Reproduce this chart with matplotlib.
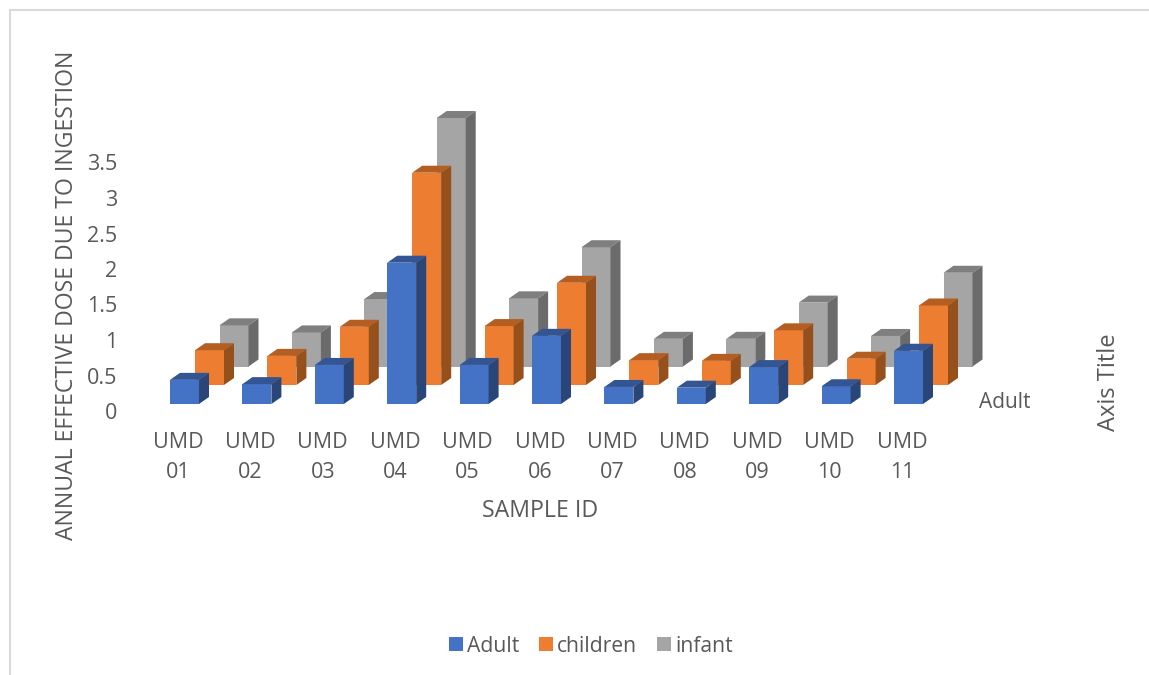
import numpy as np
import matplotlib
matplotlib.use('Agg')
import matplotlib.pyplot as plt
from matplotlib.patches import Polygon, Patch, Rectangle

plt.rcParams['font.family'] = ['Open Sans', 'DejaVu Sans']

categories = ['UMD\n01', 'UMD\n02', 'UMD\n03', 'UMD\n04', 'UMD\n05', 'UMD\n06',
              'UMD\n07', 'UMD\n08', 'UMD\n09', 'UMD\n10', 'UMD\n11']
adult = [0.34, 0.28, 0.55, 1.99, 0.55, 0.96, 0.24, 0.23, 0.52, 0.25, 0.75]
children = [0.49, 0.41, 0.82, 2.99, 0.83, 1.44, 0.35, 0.34, 0.77, 0.37, 1.12]
infant = [0.58, 0.48, 0.95, 3.50, 0.96, 1.68, 0.39, 0.39, 0.90, 0.43, 1.32]
y_ticks = [0, 0.5, 1, 1.5, 2, 2.5, 3, 3.5]
y_tick_labels = ['0', '0.5', '1', '1.5', '2', '2.5', '3', '3.5']

W, H = 1149, 675
TXT = '#595959'
PX_X = 72.4     # pixels per category
PX_Y = 71.0     # pixels per unit of dose

fig = plt.figure(figsize=(W / 100, H / 100), dpi=100)
# grey chart frame, only left and top edges are in the crop
fig.add_artist(Rectangle((10 / W, -0.1), 1.2, 1.1 - 10 / H, transform=fig.transFigure,
                         fill=False, ec='#D9D9D9', lw=1.5))

# axes so that category 0 is at x=178px and value 0 at y=411px
left, right, top, bottom = 135, 1040, 100, 411
ax = fig.add_axes([left / W, 1 - bottom / H, (right - left) / W, (bottom - top) / H])
ax.set_xlim((left - 178) / PX_X, (right - 178) / PX_X)
ax.set_ylim(0, (bottom - top) / PX_Y)
ax.patch.set_alpha(0)
for s in ax.spines.values():
    s.set_visible(False)

bar_w = 29 / PX_X
dx = 10 / PX_X
dy = 7 / PX_Y


def bar3d(x, floor, val, front, top_c, side):
    y0, y1 = floor, floor + val
    ax.add_patch(Polygon([(x, y0), (x + bar_w, y0), (x + bar_w, y1), (x, y1)],
                         fc=front, ec='none', clip_on=False))
    ax.add_patch(Polygon([(x, y1), (x + bar_w, y1), (x + bar_w + dx, y1 + dy), (x + dx, y1 + dy)],
                         fc=top_c, ec='none', clip_on=False))
    ax.add_patch(Polygon([(x + bar_w, y0), (x + bar_w + dx, y0 + dy), (x + bar_w + dx, y1 + dy), (x + bar_w, y1)],
                         fc=side, ec='none', clip_on=False))


# back row first: (values, x shift px, floor px above zero tick, colours)
rows = [
    (infant, 41.5, 44.5 / PX_Y, '#A5A5A5', '#7F7F7F', '#6B6B6B'),
    (children, 17, 26 / PX_Y, '#ED7D31', '#B55E22', '#96501C'),
    (adult, -8, 7 / PX_Y, '#4472C4', '#335593', '#2A4679'),
]
for vals, shift, floor, c1, c2, c3 in rows:
    for i, v in enumerate(vals):
        bar3d(i + shift / PX_X, floor, v, c1, c2, c3)

ax.set_yticks(y_ticks)
ax.set_yticklabels(y_tick_labels, fontsize=15.5, color=TXT)
ax.set_xticks(range(len(categories)))
ax.set_xticklabels(categories, fontsize=15.5, color=TXT, linespacing=1.6)
ax.tick_params(axis='both', length=0)
ax.tick_params(axis='x', pad=15)
ax.tick_params(axis='y', pad=13)

fig.text(540 / W, 1 - 511 / H, 'SAMPLE ID', fontsize=16.7, color=TXT, ha='center', va='center')
fig.text(67 / W, 1 - 295 / H, 'ANNUAL EFFECTIVE DOSE DUE TO INGESTION', fontsize=16.6, color=TXT,
         rotation=90, ha='center', va='center')
fig.text(1005 / W, 1 - 403 / H, 'Adult', fontsize=15, color=TXT, ha='center', va='center')
fig.text(1109 / W, 1 - 382 / H, 'Axis Title', fontsize=17, color=TXT, rotation=90, ha='center', va='center')

handles = [Patch(fc='#4472C4', label='Adult'), Patch(fc='#ED7D31', label='children'),
           Patch(fc='#A5A5A5', label='infant')]
fig.legend(handles=handles, loc='center', bbox_to_anchor=(591 / W, 1 - 646 / H), ncol=3, frameon=False,
           fontsize=15.2, labelcolor=TXT, handlelength=0.66, handleheight=0.66, handletextpad=0.18,
           columnspacing=0.95)

fig.savefig('out.png', dpi=100)
